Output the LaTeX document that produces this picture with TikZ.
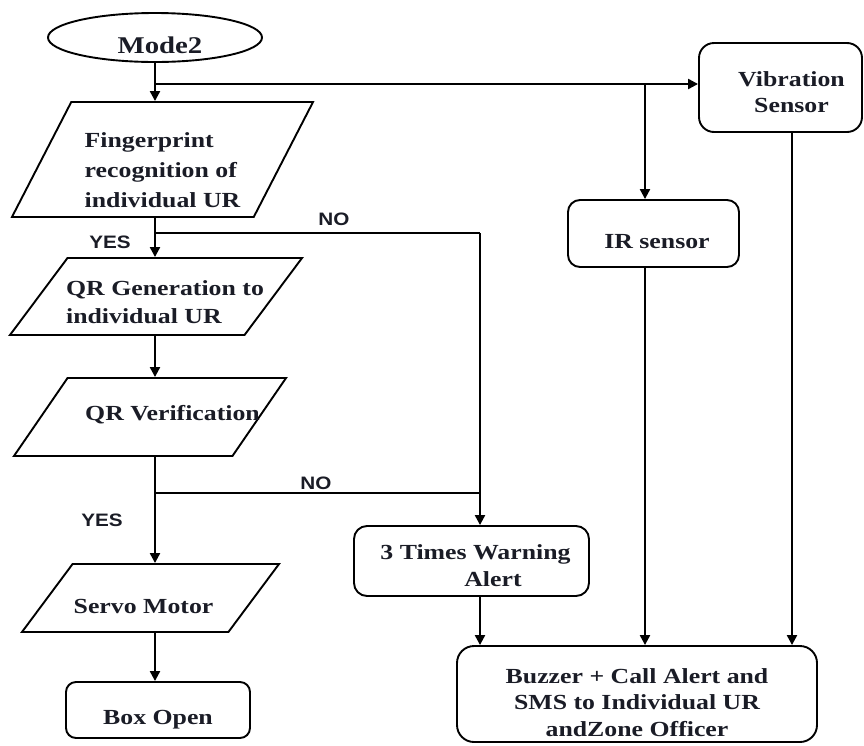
\documentclass[tikz,border=0pt]{standalone}
\usepackage{fontspec}
\setmainfont{Liberation Serif}
\newfontfamily\nodefont{Liberation Serif}[FakeStretch=1.2]
\newfontfamily\labfont{Liberation Sans}[FakeStretch=1.15]
\usetikzlibrary{shapes.geometric,arrows.meta}
\definecolor{txtcol}{HTML}{1A1C26}
% #1 x shift, #2 raise of first baseline, #3 line pitch, #4 alignment, #5 text
\newcommand\tb[5]{\raisebox{#2}[0.5pt][0.5pt]{\makebox[1pt]{\hspace*{#1}\hspace*{#1}\fontsize{21.5}{#3}\selectfont\begin{tabular}[t]{@{}#4@{}}#5\end{tabular}}}}
\begin{document}
\begin{tikzpicture}[x=1pt,y=-1pt,
  line width=2.2pt,
  every node/.style={text=txtcol, font=\nodefont\bfseries},
  box/.style={draw, line width=1.9pt, rounded corners=13pt, inner sep=0pt},
  para/.style={draw, line width=1.9pt, trapezium, trapezium left angle=72,
    trapezium right angle=108, trapezium stretches=true, inner sep=0pt},
  oval/.style={draw, line width=1.9pt, ellipse, inner sep=0pt},
  arr/.style={-{Triangle[length=10pt,width=10pt]}},
  lab/.style={font=\labfont\bfseries\fontsize{18}{20}\selectfont, inner sep=0pt}]
\useasboundingbox (0,0) rectangle (864,745);

\node[oval, minimum width=214pt, minimum height=49pt] (mode) at (155,37.5)
  {\tb{5pt}{-15.5pt}{26pt}{c}{\fontsize{24}{26}\selectfont Mode2}};
\node[para, minimum width=301pt, minimum height=115pt] (fp) at (162.5,159.5)
  {\tb{0pt}{12.5pt}{30pt}{l}{Fingerprint\\recognition of\\individual UR}};
\node[para, minimum width=292pt, minimum height=77pt] (qrg) at (156,296.5)
  {\tb{9pt}{1.5pt}{28pt}{l}{QR Generation to\\individual UR}};
\node[para, minimum width=272pt, minimum height=78pt] (qrv) at (150,417)
  {\tb{22.5pt}{-3pt}{26pt}{c}{QR Verification}};
\node[para, minimum width=257pt, minimum height=68pt] (servo) at (150.5,598)
  {\tb{-7pt}{-15pt}{26pt}{c}{Servo Motor}};
\node[box, rounded corners=10pt, minimum width=184pt, minimum height=56pt] (open) at (158,710)
  {\tb{0pt}{-14pt}{26pt}{c}{Box Open}};
\node[box, rounded corners=15pt, minimum width=163pt, minimum height=89pt] (vib) at (780.5,87.5)
  {\tb{11pt}{1.5pt}{26pt}{c}{Vibration\\Sensor}};
\node[box, rounded corners=12pt, minimum width=171pt, minimum height=67pt] (ir) at (653.5,233.5)
  {\tb{3.5pt}{-14.5pt}{26pt}{c}{IR sensor}};
\node[box, minimum width=235pt, minimum height=70pt] (warn) at (471.5,561)
  {\tb{4pt}{2pt}{27pt}{c}{3 Times Warning\\\hspace*{35pt}Alert}};
\node[box, rounded corners=17pt, minimum width=360pt, minimum height=96pt] (buz) at (637,694)
  {\tb{0pt}{11pt}{26.5pt}{c}{Buzzer + Call Alert and\\SMS to Individual UR\\andZone Officer}};

\coordinate (b1) at (155,84);
\coordinate (b2) at (645,84);
\coordinate (vx) at (792,132);
\coordinate (n1) at (155,233);
\coordinate (n2) at (155,493);
\coordinate (nx) at (480,233);

\draw[arr] (mode.south) -- (mode.south |- fp.north);
\draw[arr] (b1) -- (b1 -| vib.west);
\draw[arr] (b2) -- (b2 |- ir.north);
\draw[arr] (b2 |- ir.south) -- (b2 |- buz.north);
\draw[arr] (vx |- vib.south) -- (vx |- buz.north);
\draw[arr] (n1 |- fp.south) -- (n1 |- qrg.north);
\draw (n1) -- (nx);
\draw[arr] (nx) -- (nx |- warn.north);
\draw[arr] (n1 |- qrg.south) -- (n1 |- qrv.north);
\draw[arr] (n1 |- qrv.south) -- (n1 |- servo.north);
\draw (n2) -- (n2 -| nx);
\draw[arr] (n1 |- servo.south) -- (n1 |- open.north);
\draw[arr] (nx |- warn.south) -- (nx |- buz.north);

\node[lab] (no1) at (334,219.5) {NO};
\node[lab] (yes1) at (110,242.5) {YES};
\node[lab] (no2) at (316,483.5) {NO};
\node[lab] (yes2) at (102,520.5) {YES};
\end{tikzpicture}
\end{document}
